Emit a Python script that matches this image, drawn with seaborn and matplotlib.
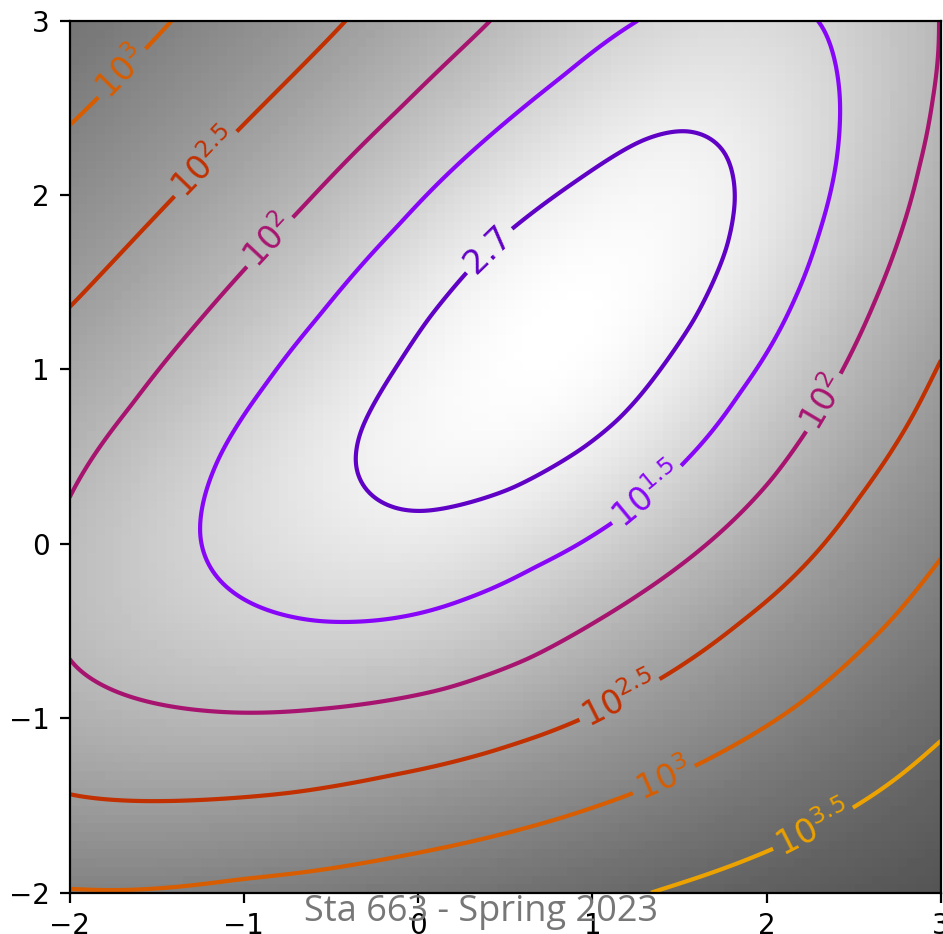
import numpy as np
import matplotlib
matplotlib.use("Agg")
import matplotlib.pyplot as plt
import seaborn as sns

# Contour traces, one pair of lists per log10 level
lvl_10_x = [-0.39, -0.35, -0.24, -0.10, -0.10, 0.03, 0.545, 0.95, 1.16, 1.27, 1.60, 1.79,
            1.84, 1.79, 1.54, 1.27, 0.93, 0.585, 0.39, 0.05]
lvl_10_y = [0.46, 0.65, 0.825, 1.04, 0.18, 0.165, 0.29, 0.54, 0.70, 0.835, 1.28, 1.685,
            1.97, 2.26, 2.39, 2.33, 2.09, 1.84, 1.70, 1.30]

lvl_15_x = [-1.27, -1.14, -0.87, -1.06, -0.58, 0.28, 0.66, 1.11, 1.53, 1.83, 2.153, 2.287,
            2.40, 2.43, 2.362, 1.245, 0.85, 0.39, -0.10, -0.56]
lvl_15_y = [0.04, 0.52, 0.90, -0.28, -0.45, -0.30, -0.11, 0.13, 0.49, 0.88, 1.40, 1.78,
            2.163, 2.545, 2.976, 2.975, 2.68, 2.32, 1.82, 1.30]

lvl_20_x = [-1.97, -1.63, -1.25, -0.98, -0.68, -0.10, 0.41, -1.97, -1.02, -0.56, 0.16, 0.64,
            1.02, 1.273, 1.751, 2.038, 2.22, 2.43, 2.62, 2.765, 2.86, 2.937, 2.965]
lvl_20_y = [0.313, 0.787, 1.28, 1.59, 1.90, 2.49, 2.97, -0.745, -0.97, -0.94, -0.84, -0.67,
            -0.44, -0.283, 0.08, 0.366, 0.63, 0.99, 1.40, 1.78, 2.163, 2.545, 2.976]

lvl_25_x = [-1.97, -1.41, -1.03, -0.56, -0.43, -1.968, -1.423, -0.716, -0.142, 0.222, 0.545,
            0.93, 1.426, 1.847, 2.23, 2.516, 2.83, 2.975]
lvl_25_y = [1.375, 1.98, 2.38, 2.85, 2.975, -1.459, -1.473, -1.43, -1.315, -1.239, -1.14,
            -1.0, -0.752, -0.436, -0.11, 0.27, 0.71, 1.035]

lvl_30_x = [-1.97, -1.70, -1.44, -1.968, -1.003, -0.333, 0.222, 0.80, 1.245, 1.62, 2.057,
            2.20, 2.72, 2.975]
lvl_30_y = [2.43, 2.71, 2.975, -1.975, -1.917, -1.831, -1.726, -1.58, -1.43, -1.26, -1.01,
            -0.92, -0.44, -0.114]

lvl_35_x = [1.40, 2.02, 2.51, 2.975]
lvl_35_y = [-1.97, -1.75, -1.49, -1.13]

# lowest point (white spot), corners and bottom edge, log10 values
extra_x = [0.8, -2.0, 3.0, -2.0, 3.0, -1.0, 0.0, 1.0]
extra_y = [1.35, 3.0, -2.0, -2.0, 3.0, -2.0, -2.0, -2.0]
extra_val = [0.7, 3.27, 3.85, 3.03, 2.0, 3.09, 3.22, 3.42]

levels = [1.0, 1.5, 2.0, 2.5, 3.0, 3.5]
traces = [(lvl_10_x, lvl_10_y), (lvl_15_x, lvl_15_y), (lvl_20_x, lvl_20_y),
          (lvl_25_x, lvl_25_y), (lvl_30_x, lvl_30_y), (lvl_35_x, lvl_35_y)]

# where the inline labels sit
label_spots = [(0.39, 1.70), (1.29, 0.31), (-0.85, 1.73), (2.31, 0.82),
               (-1.22, 2.18), (1.16, -0.90), (-1.71, 2.71), (1.405, -1.34),
               (2.25, -1.60)]

sns.set_style("ticks")
plt.rcParams["font.family"] = ["DejaVu Sans"]
plt.rcParams["axes.edgecolor"] = "black"
plt.rcParams["axes.linewidth"] = 0.8
plt.rcParams["xtick.color"] = "black"
plt.rcParams["ytick.color"] = "black"
plt.rcParams["xtick.major.width"] = 0.8
plt.rcParams["ytick.major.width"] = 0.8
plt.rcParams["xtick.labelsize"] = 10
plt.rcParams["ytick.labelsize"] = 10

# smoothing thin plate spline through the traced levels
px = np.concatenate([np.array(t[0]) for t in traces] + [np.array(extra_x)])
py = np.concatenate([np.array(t[1]) for t in traces] + [np.array(extra_y)])
pz = np.concatenate([np.full(len(t[0]), lv) for t, lv in zip(traces, levels)] + [np.array(extra_val)])


def tps(r):
    with np.errstate(divide="ignore", invalid="ignore"):
        k = r**2 * np.log(r)
    return np.nan_to_num(k)


n = len(px)
K = tps(np.hypot(px[:, None] - px[None, :], py[:, None] - py[None, :])) + 0.25 * np.eye(n)
P = np.column_stack([np.ones(n), px, py])
A = np.block([[K, P], [P.T, np.zeros((3, 3))]])
sol = np.linalg.solve(A, np.concatenate([pz, np.zeros(3)]))


def surface(gx, gy):
    dist = np.hypot(gx.ravel()[:, None] - px[None, :], gy.ravel()[:, None] - py[None, :])
    flat = tps(dist) @ sol[:n] + sol[n] + sol[n + 1] * gx.ravel() + sol[n + 2] * gy.ravel()
    return flat.reshape(gx.shape)


coarse = np.linspace(-2, 3, 100)
log_z = surface(*np.meshgrid(coarse, coarse))
fine = np.linspace(-2, 3, 300)
fx, fy = np.meshgrid(fine, fine)
log_z_fine = surface(fx, fy)


def super_fmt(value):
    if value > 1:
        if abs(int(value) - value) < .1:
            return "$10^{%d}$" % value
        return "$10^{%.1f}$" % value
    return "%1.1f" % np.exp(value - .01)


fig = plt.figure(figsize=(943 / 200, 934 / 200), dpi=200)
ax = fig.add_axes([69.5 / 943, 41.3 / 934, 871.5 / 943, 872 / 934])

ax.imshow(log_z, extent=[-2, 3, -2, 3], origin="lower", cmap="gray_r",
          vmax=log_z.min() + 1.5 * np.ptp(log_z), aspect="auto")
cs = ax.contour(fx, fy, log_z_fine, levels=levels, cmap="gnuplot", vmin=0.5, vmax=4.0,
                linewidths=1.5)
ax.clabel(cs, inline=True, fmt=super_fmt, fontsize=12, manual=label_spots)

ax.set_xlim(-2, 3)
ax.set_ylim(-2, 3)
ax.set_xticks(range(-2, 4))
ax.set_yticks(range(-2, 4))

fig.text(0.51, 0.024, "Sta 663 - Spring 2023", ha="center", va="center",
         color="#777777", fontsize=13, family="Open Sans")

fig.savefig("out.png", dpi=200)
